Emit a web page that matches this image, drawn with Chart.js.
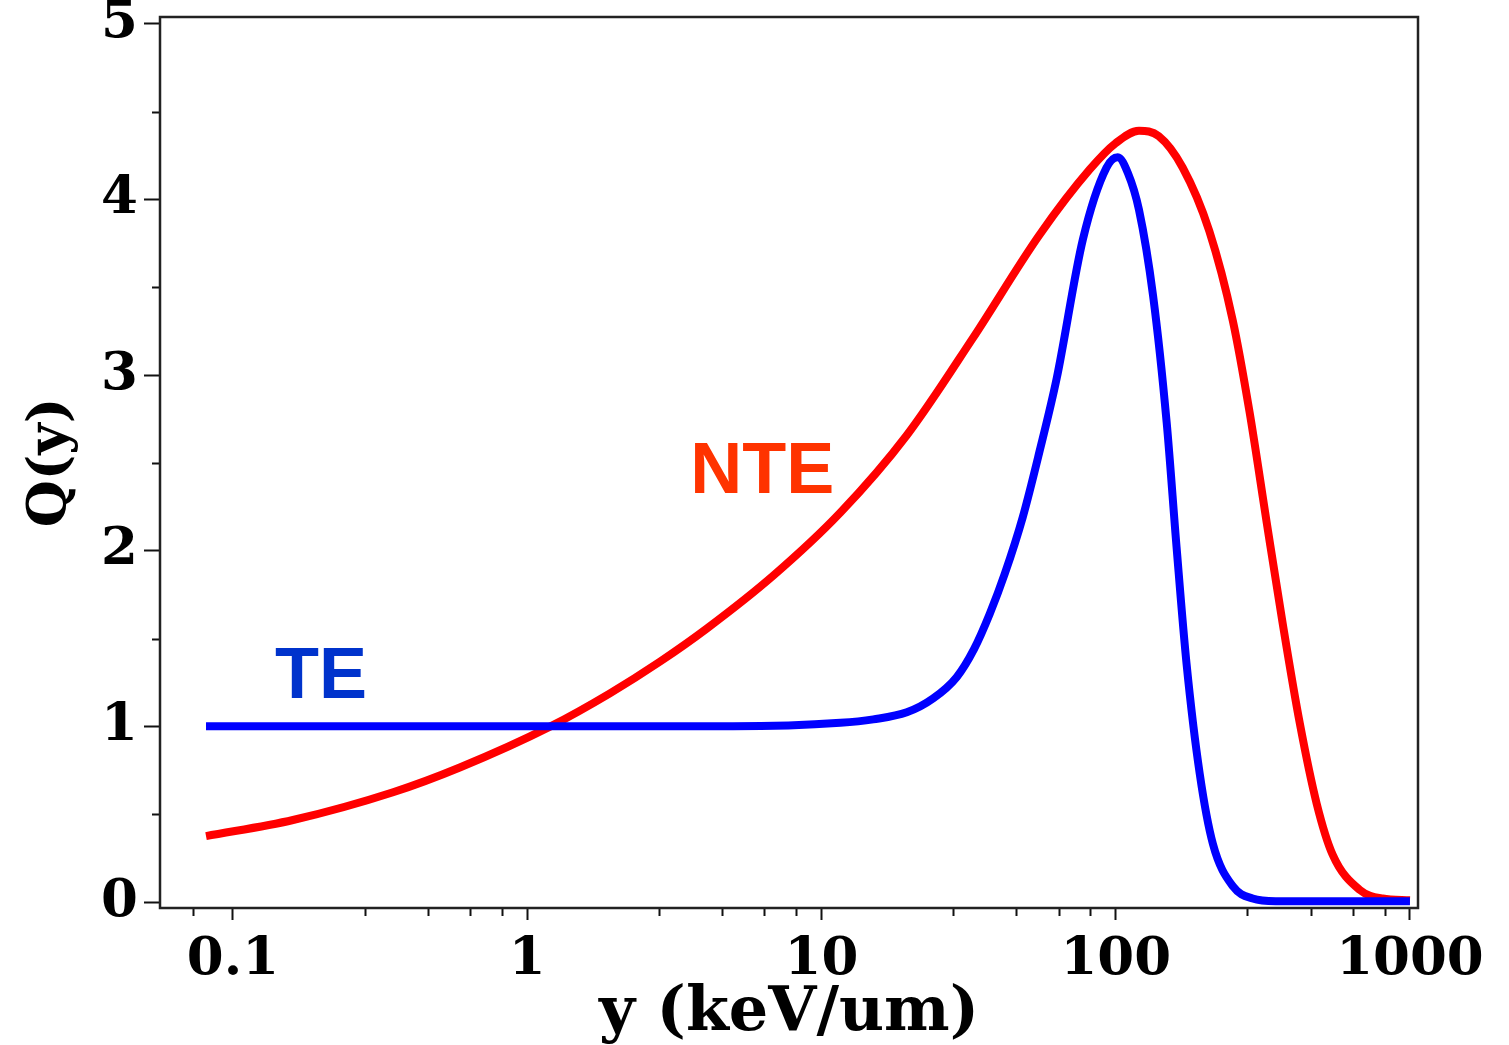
<!DOCTYPE html>
<html>
<head>
<meta charset="utf-8">
<script src="https://cdn.jsdelivr.net/npm/chart.js@4.4.1/dist/chart.umd.min.js"></script>
<style>
  html, body { margin: 0; padding: 0; background: #fff; }
  #wrap { width: 1509px; height: 1045px; }
</style>
</head>
<body>
<div id="wrap"><canvas id="qChart"></canvas></div>
<script>
// NTE curve (red)
const nteY = [0.081, 0.16, 0.35, 0.59, 1.2, 1.91, 2.83, 4.08, 6.85, 11.6, 19.5, 32.7, 55.2, 81.6, 100, 120, 140, 169, 208, 250, 285, 326, 369, 422, 482, 546, 674, 807, 1000];
const nteQ = [0.375, 0.467, 0.625, 0.766, 1.0, 1.188, 1.369, 1.557, 1.857, 2.217, 2.657, 3.21, 3.80, 4.17, 4.32, 4.39, 4.36, 4.18, 3.82, 3.31, 2.79, 2.16, 1.59, 1.02, 0.56, 0.27, 0.07, 0.02, 0.01];

// TE curve (blue)
const teY = [0.081, 1, 5, 11.6, 15, 19.5, 24, 28.8, 33, 37.3, 42, 48.3, 55, 63, 77.3, 93, 101.6, 110, 120, 134, 149, 161, 174, 193, 214, 250, 292, 350, 1000];
const teQ = [1, 1, 1, 1.02, 1.04, 1.08, 1.16, 1.28, 1.44, 1.64, 1.87, 2.19, 2.56, 2.98, 3.77, 4.18, 4.24, 4.15, 3.94, 3.45, 2.73, 2.02, 1.36, 0.73, 0.33, 0.09, 0.02, 0.005, 0.005];

// axis ticks
const xMajor = [0.1, 1, 10, 100, 1000];
const xTickLabels = ['0.1', '1', '10', '100', '1000'];
const xMinor = [0.073, 0.28, 0.46, 0.64, 0.82, 2.8, 4.6, 6.4, 8.2, 28, 46, 64, 82, 280, 460, 640, 820];
const yMajor = [0, 1, 2, 3, 4, 5];
const yMinor = [0.5, 1.5, 2.5, 3.5, 4.5];

// curve labels (value coords)
const curveLabels = [
    { text: 'NTE', x: 3.58, y: 2.33, color: '#ff3300' },
    { text: 'TE', x: 0.139, y: 1.16, color: '#0033cc' },
];

const toPoints = (xs, ys) => xs.map((v, i) => ({ x: v, y: ys[i] }));

// frame + minor ticks + curve labels
const extras = {
    id: 'extras',
    afterDraw(chart) {
        const ctx = chart.ctx;
        const a = chart.chartArea;
        const xs = chart.scales.x;
        const ys = chart.scales.y;
        ctx.save();
        ctx.strokeStyle = '#111';
        ctx.lineWidth = 2;
        ctx.beginPath();
        xMinor.forEach(v => {
            const px = Math.round(xs.getPixelForValue(v)) + 0.5;
            ctx.moveTo(px, a.bottom);
            ctx.lineTo(px, a.bottom + 8);
        });
        yMinor.forEach(v => {
            const py = Math.round(ys.getPixelForValue(v)) + 0.5;
            ctx.moveTo(a.left, py);
            ctx.lineTo(a.left - 8, py);
        });
        ctx.stroke();
        // box
        ctx.lineWidth = 2.5;
        ctx.strokeStyle = '#222';
        ctx.strokeRect(a.left, a.top, a.right - a.left, a.bottom - a.top);

        ctx.font = 'bold 72px "Liberation Sans", Arial, sans-serif';
        ctx.textBaseline = 'alphabetic';
        ctx.textAlign = 'left';
        curveLabels.forEach(l => {
            ctx.fillStyle = l.color;
            ctx.fillText(l.text, xs.getPixelForValue(l.x), ys.getPixelForValue(l.y));
        });
        ctx.restore();
    }
};

const tickFont = { family: '"DejaVu Serif", serif', size: 53, weight: 'bold', lineHeight: 1 };

const ctx = document.getElementById('qChart').getContext('2d');
const qChart = new Chart(ctx, {
    type: 'line',
    data: {
        datasets: [
            {
                label: 'TE',
                data: toPoints(teY, teQ),
                borderColor: '#0000ff',
                borderWidth: 8,
                pointRadius: 0,
                cubicInterpolationMode: 'monotone',
                fill: false,
            },
            {
                label: 'NTE',
                data: toPoints(nteY, nteQ),
                borderColor: '#ff0000',
                borderWidth: 8,
                pointRadius: 0,
                cubicInterpolationMode: 'monotone',
                fill: false,
            },
        ],
    },
    options: {
        responsive: true,
        maintainAspectRatio: false,
        animation: false,
        layout: { padding: { top: 17, right: 91, left: 0, bottom: 0 } },
        plugins: {
            legend: { display: false },
            tooltip: { enabled: false },
        },
        scales: {
            x: {
                type: 'logarithmic',
                min: 0.0565,
                max: 1065,
                afterBuildTicks: s => { s.ticks = xMajor.map(v => ({ value: v })); },
                afterFit: s => { s.height = 137; },
                grid: {
                    drawOnChartArea: false,
                    drawTicks: true,
                    tickLength: 12,
                    tickWidth: 2,
                    tickColor: '#111',
                },
                border: { display: false },
                ticks: {
                    autoSkip: false,
                    maxRotation: 0,
                    color: '#000',
                    font: tickFont,
                    padding: 14,
                    callback: (v, i) => xTickLabels[i],
                },
                title: {
                    display: true,
                    text: 'y (keV/um)',
                    color: '#000',
                    font: { family: '"DejaVu Serif", serif', size: 62, weight: 'bold', lineHeight: 1 },
                    padding: { top: 0, bottom: 0 },
                },
            },
            y: {
                type: 'linear',
                min: -0.034,
                max: 5.038,
                afterBuildTicks: s => { s.ticks = yMajor.map(v => ({ value: v })); },
                afterFit: s => { s.width = 160; s.paddingTop = 0; s.paddingBottom = 0; },
                grid: {
                    drawOnChartArea: false,
                    drawTicks: true,
                    tickLength: 16,
                    tickWidth: 2,
                    tickColor: '#111',
                },
                border: { display: false },
                ticks: {
                    color: '#000',
                    font: tickFont,
                    padding: 6,
                    callback: v => String(v),
                },
                title: {
                    display: true,
                    text: 'Q(y)',
                    color: '#000',
                    font: { family: '"DejaVu Serif", serif', size: 54, weight: 'bold', lineHeight: 1 },
                    padding: { top: 25, bottom: 0 },
                },
            },
        },
    },
    plugins: [extras],
});
</script>
</body>
</html>
